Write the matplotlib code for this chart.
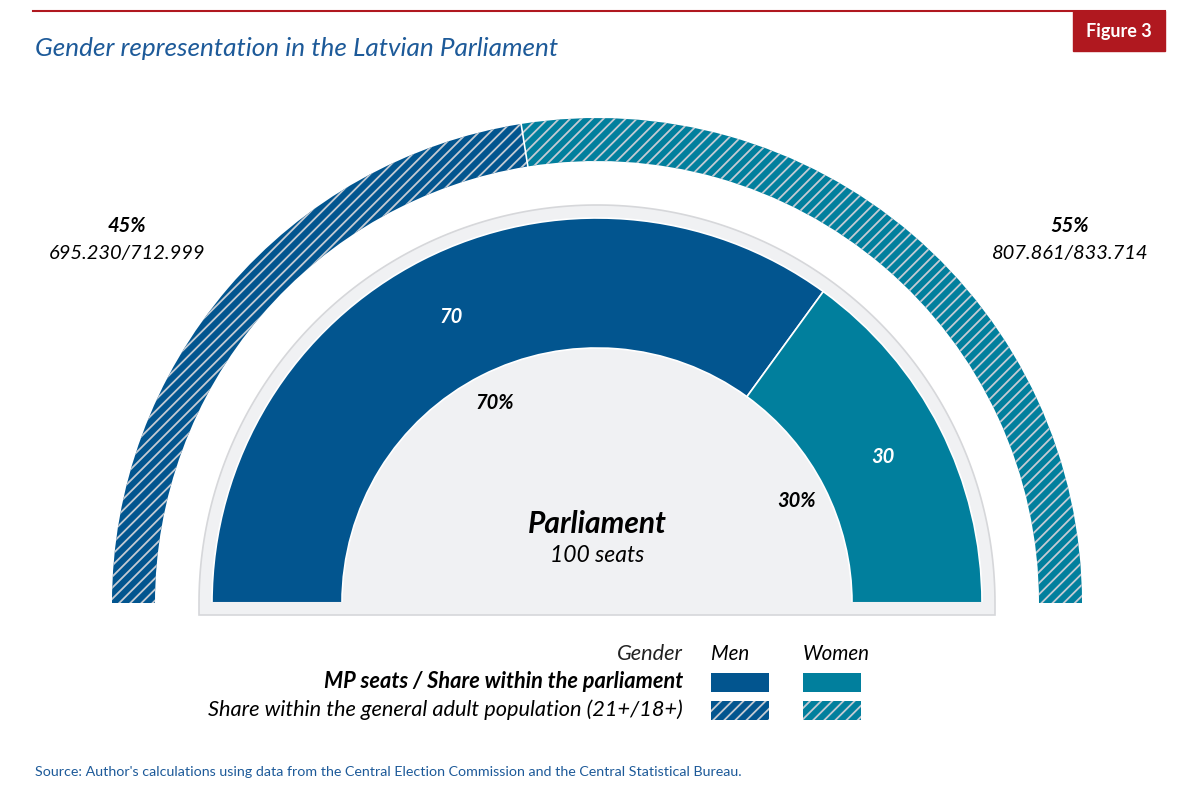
import numpy as np
import matplotlib
matplotlib.use("Agg")
import matplotlib.pyplot as plt
from matplotlib.patches import Wedge, Polygon, Rectangle

# === Data ===
groups = ["Men", "Women"]
mp_seats = [70, 30]
parliament_share = [70, 30]          # %
population_share = [45, 55]          # %
population_counts = ["695.230/712.999", "807.861/833.714"]
total_seats = 100

# === Style ===
colors = ["#02558f", "#017f9d"]
hatch_col = "#c5cbd3"
bg_gray = "#f0f1f3"
red = "#b0181f"
blue_txt = "#1d5a99"
plt.rcParams["font.family"] = "Lato"
plt.rcParams["hatch.linewidth"] = 1.3

W, H = 1200, 799
fig = plt.figure(figsize=(W / 100, H / 100), dpi=100)
ax = fig.add_axes([0, 0, 1, 1])
ax.set_xlim(0, W)
ax.set_ylim(0, H)
ax.axis("off")

def py(y):
    # pixel row (from top) -> data y
    return H - y

cx, cy = 597, py(603)

# header
ax.plot([33, 1165], [py(11), py(11)], color=red, lw=1.5)
ax.add_patch(Rectangle((1073, py(51)), 92, 40, color=red))
ax.text(1119, py(31), "Figure 3", color="white", fontsize=13, fontweight="bold",
        ha="center", va="center")
ax.text(35, py(48), "Gender representation in the Latvian Parliament", color=blue_txt,
        fontsize=18.8, style="italic", ha="left", va="center")

# gray background half-disc
R_bg = 398
t = np.linspace(np.pi, 0, 200)
pts = [(cx + R_bg * np.cos(a), cy + R_bg * np.sin(a)) for a in t]
pts += [(cx + R_bg, py(615)), (cx - R_bg, py(615))]
ax.add_patch(Polygon(pts, closed=True, facecolor=bg_gray, edgecolor="#d6d7da", lw=1.2))

# inner ring: parliament seats
r_out, r_w = 385, 130
start = 180.0
for i, v in enumerate(mp_seats):
    span = 180.0 * v / total_seats
    th1, th2 = start - span, start
    ax.add_patch(Wedge((cx, cy), r_out, th1, th2, width=r_w, facecolor=colors[i],
                       edgecolor="white", lw=1.2))
    mid = np.radians((th1 + th2) / 2)
    ax.text(cx + 321 * np.cos(mid), cy + 321 * np.sin(mid), str(v), color="white",
            fontsize=14.5, fontweight="bold", style="italic", ha="center", va="center")
    ax.text(cx + 224 * np.cos(mid), cy + 224 * np.sin(mid), f"{parliament_share[i]}%",
            color="black", fontsize=14.5, fontweight="bold", style="italic",
            ha="center", va="center")
    start = th1
# cover the edge at the baseline
ax.plot([cx - r_out - 2, cx + r_out + 2], [cy, cy], color=bg_gray, lw=1.5)

# outer ring: population share
R_out, R_w = 485, 43
start = 180.0
for i, v in enumerate(population_share):
    span = 180.0 * v / 100
    th1, th2 = start - span, start
    ax.add_patch(Wedge((cx, cy), R_out, th1, th2, width=R_w, facecolor=colors[i],
                       edgecolor="none", lw=0))
    ax.add_patch(Wedge((cx, cy), R_out, th1, th2, width=R_w, facecolor="none",
                       edgecolor=hatch_col, hatch="///", lw=0))
    start = th1
bnd = np.radians(180 - 180 * population_share[0] / 100)
ax.plot([cx + (R_out - R_w) * np.cos(bnd), cx + R_out * np.cos(bnd)],
        [cy + (R_out - R_w) * np.sin(bnd), cy + R_out * np.sin(bnd)], color="white", lw=1.2)

# outer labels
for i, xpos in enumerate([127, 1070]):
    ax.text(xpos, py(226), f"{population_share[i]}%", fontsize=14.5, fontweight="bold",
            style="italic", ha="center", va="center")
    ax.text(xpos, py(254), population_counts[i], fontsize=14.5, style="italic",
            ha="center", va="center")

# centre label
ax.text(cx, py(524), "Parliament", fontsize=21.5, fontweight="bold", style="italic",
        ha="center", va="center")
ax.text(cx, py(556), f"{total_seats} seats", fontsize=16.5, style="italic",
        ha="center", va="center")

# legend
fs_leg = 15.7
ax.text(683, py(654), "Gender", fontsize=fs_leg, style="italic", ha="right", va="center",
        color="#222222")
ax.text(711, py(654), groups[0], fontsize=14.8, style="italic", ha="left", va="center")
ax.text(803, py(654), groups[1], fontsize=14.8, style="italic", ha="left", va="center")
ax.text(683, py(682), "MP seats / Share within the parliament", fontsize=fs_leg,
        fontweight="bold", style="italic", ha="right", va="center")
ax.text(683, py(710), "Share within the general adult population (21+/18+)", fontsize=fs_leg,
        style="italic", ha="right", va="center")
for i, x0 in enumerate([711, 803]):
    ax.add_patch(Rectangle((x0, py(692)), 58, 19, facecolor=colors[i], lw=0))
    ax.add_patch(Rectangle((x0, py(720)), 58, 19, facecolor=colors[i], lw=0))
    ax.add_patch(Rectangle((x0, py(720)), 58, 19, facecolor="none", edgecolor=hatch_col,
                           hatch="///", lw=0))

ax.text(35, py(772), "Source: Author's calculations using data from the Central Election "
        "Commission and the Central Statistical Bureau.", fontsize=10.3, color=blue_txt,
        ha="left", va="center")

fig.savefig("out.png", dpi=100)
